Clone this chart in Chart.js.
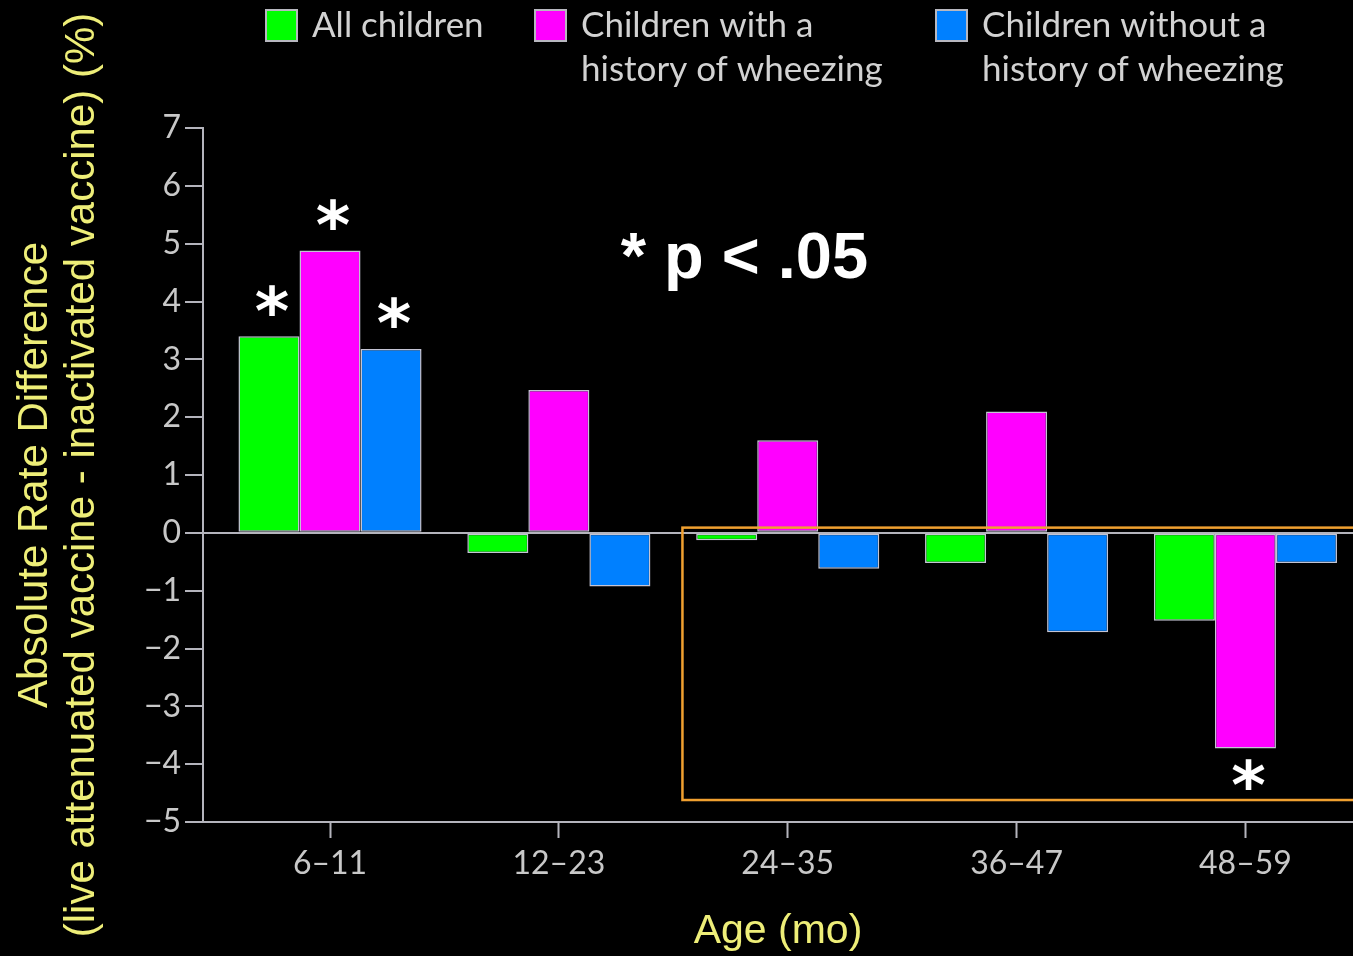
<!DOCTYPE html>
<html>
<head>
<meta charset="utf-8">
<script src="https://cdn.jsdelivr.net/npm/chart.js@4.4.1/dist/chart.umd.min.js"></script>
<style>
    html, body { margin: 0; padding: 0; background: #000; overflow: hidden; }
    #chart-wrapper { width: 1353px; height: 956px; position: relative; }
</style>
</head>
<body>
<div id="chart-wrapper"><canvas id="rateChart"></canvas></div>
<script>
// Data
const ageGroups = ['6–11', '12–23', '24–35', '36–47', '48–59'];
const allChildren = [3.4, -0.35, -0.13, -0.52, -1.52];
const withWheezing = [4.88, 2.47, 1.6, 2.1, -3.73];
const withoutWheezing = [3.18, -0.93, -0.62, -1.72, -0.52];
const sigAll = [true, false, false, false, false];
const sigWith = [true, false, false, false, true];
const sigWithout = [true, false, false, false, false];
const legendLines = [['All children'], ['Children with a', 'history of wheezing'], ['Children without a', 'history of wheezing']];
const yTitle = ['Absolute Rate Difference', '(live attenuated vaccine - inactivated vaccine) (%)'];

// Styles
const axisColor = '#b4b4bc';
const tickColor = '#c8c8c8';
const yellow = '#eeee78';
const barBorder = '#c4c4d4';
const seriesColors = ['#00ff00', '#ff00ff', '#0080ff'];
const pad = { top: 128, left: 12, right: 0, bottom: 0 };

const toPoints = arr => arr.map((v, i) => ({ x: i, y: v }));

const datasets = [allChildren, withWheezing, withoutWheezing].map((arr, i) => ({
    label: legendLines[i].join(' '),
    data: toPoints(arr),
    backgroundColor: seriesColors[i],
    borderColor: barBorder,
    borderWidth: 1.5,
    borderSkipped: false,
    categoryPercentage: 0.8,
    barPercentage: 1.0
}));

// Asterisks for p < .05
const starPlugin = {
    id: 'stars',
    afterDatasetsDraw(chart) {
        const ctx = chart.ctx;
        const sigs = [sigAll, sigWith, sigWithout];
        ctx.save();
        ctx.fillStyle = '#ffffff';
        ctx.font = 'bold 66px "DejaVu Sans"';
        ctx.textAlign = 'center';
        ctx.textBaseline = 'alphabetic';
        const m = ctx.measureText('*');
        const mid = (m.actualBoundingBoxAscent - m.actualBoundingBoxDescent) / 2;
        sigs.forEach((sig, di) => {
            const meta = chart.getDatasetMeta(di);
            sig.forEach((s, j) => {
                if (!s) return;
                const bar = meta.data[j];
                const v = chart.data.datasets[di].data[j].y;
                const cy = v >= 0 ? bar.y - 36 : bar.y + 26;
                ctx.fillText('*', bar.x + 3, cy + mid);
            });
        });
        ctx.restore();
    }
};

// Orange box and p-value note
const notePlugin = {
    id: 'note',
    afterDatasetsDraw(chart) {
        const ctx = chart.ctx;
        const xs = chart.scales.x, ys = chart.scales.y;
        ctx.save();
        ctx.strokeStyle = '#f0a030';
        ctx.lineWidth = 2.5;
        const x0 = xs.getPixelForValue(1.54), x1 = xs.getPixelForValue(4.6);
        const y0 = ys.getPixelForValue(0.09), y1 = ys.getPixelForValue(-4.62);
        ctx.strokeRect(x0, y0, x1 - x0, y1 - y0);

        ctx.fillStyle = '#ffffff';
        ctx.font = 'bold 65px "Liberation Sans"';
        ctx.textAlign = 'left';
        ctx.textBaseline = 'alphabetic';
        ctx.fillText('* p < .05', xs.getPixelForValue(1.27), ys.getPixelForValue(4.41));
        ctx.restore();
    }
};

// Legend at top, multi-line labels
const legendPlugin = {
    id: 'topLegend',
    afterDraw(chart) {
        const ctx = chart.ctx;
        const boxX = [266, 535, 936];
        ctx.save();
        ctx.font = '35px Lato';
        ctx.textAlign = 'left';
        ctx.textBaseline = 'alphabetic';
        legendLines.forEach((lines, i) => {
            ctx.fillStyle = seriesColors[i];
            ctx.fillRect(boxX[i], 10, 31, 31);
            ctx.strokeStyle = '#b8b8c0';
            ctx.lineWidth = 2;
            ctx.strokeRect(boxX[i], 10, 31, 31);
            ctx.fillStyle = '#d2d2d2';
            lines.forEach((t, k) => ctx.fillText(t, boxX[i] + 46, 37 + k * 44));
        });
        ctx.restore();
    }
};

const config = {
    type: 'bar',
    data: { datasets: datasets },
    options: {
        responsive: false,
        animation: false,
        layout: { padding: pad },
        plugins: {
            legend: { display: false },
            tooltip: { enabled: false }
        },
        scales: {
            x: {
                type: 'linear',
                offset: false,
                min: -0.555,
                max: 4.47,
                ticks: {
                    stepSize: 1,
                    includeBounds: false,
                    autoSkip: false,
                    maxRotation: 0,
                    color: tickColor,
                    font: { family: 'Lato', size: 32 },
                    padding: 6,
                    callback: v => ageGroups[v] ?? ''
                },
                grid: { offset: false, drawOnChartArea: false, tickLength: 16, tickColor: axisColor, tickWidth: 2 },
                border: { color: axisColor, width: 2 },
                title: {
                    display: true,
                    text: 'Age (mo)',
                    color: yellow,
                    font: { family: 'Liberation Sans', size: 41 },
                    padding: { top: 8, bottom: 0 }
                },
                afterFit: s => { s.height = 956 - 822 - pad.bottom; }
            },
            y: {
                min: -5,
                max: 7,
                ticks: {
                    stepSize: 1,
                    color: tickColor,
                    font: { family: 'Lato', size: 32 },
                    padding: 4,
                    callback: v => String(v).replace('-', '−')
                },
                grid: {
                    color: c => (c.tick && c.tick.value === 0) ? axisColor : 'transparent',
                    lineWidth: 2,
                    tickColor: axisColor,
                    tickWidth: 2,
                    tickLength: 18
                },
                border: { color: axisColor, width: 2 },
                title: {
                    display: true,
                    text: yTitle,
                    color: yellow,
                    font: { family: 'Liberation Sans', size: 42, lineHeight: 1.12 },
                    padding: 0
                },
                afterFit: s => { s.width = 203 - pad.left; }
            }
        }
    },
    plugins: [starPlugin, notePlugin, legendPlugin]
};

const canvas = document.getElementById('rateChart');
canvas.width = 1353;
canvas.height = 956;
const rateChart = new Chart(canvas.getContext('2d'), config);
</script>
</body>
</html>
